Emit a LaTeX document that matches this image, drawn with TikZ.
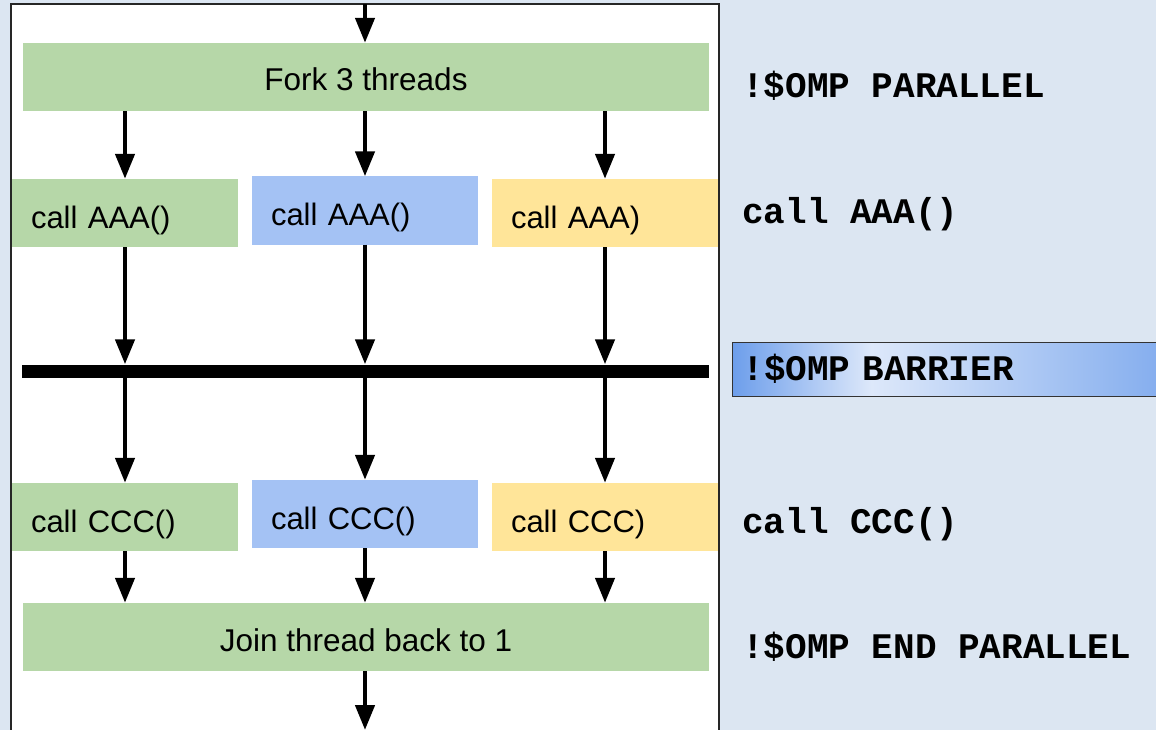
\documentclass[tikz,border=0pt]{standalone}
\usepackage{fontspec}
\setmainfont{Liberation Sans}
\newfontfamily\codefont{Liberation Mono}
\usetikzlibrary{arrows.meta}
\definecolor{bgblue}{HTML}{DCE6F2}
\definecolor{forkgreen}{HTML}{B6D7A8}
\definecolor{threadblue}{HTML}{A4C2F4}
\definecolor{threadyellow}{HTML}{FFE599}
\definecolor{barblue}{HTML}{6D9EEB}
\definecolor{barlight}{HTML}{DDE8FA}
\pgfdeclarehorizontalshading{barriershade}{100bp}{color(0bp)=(barblue); color(25bp)=(barblue); color(41bp)=(barlight); color(75bp)=(barblue!85); color(100bp)=(barblue!85)}
\tikzset{
  flow/.style={line width=4.5pt,-{Triangle[length=25pt,width=19pt]}},
  wide/.style={fill=forkgreen,minimum width=686pt,minimum height=68pt,inner sep=0pt,
    text height=28pt,text depth=0pt,font=\fontsize{31.5}{36}\selectfont},
  thread/.style={minimum height=68pt,text width=188pt,inner xsep=19pt,inner ysep=0pt,align=left,
    text height=30pt,text depth=0pt,font=\fontsize{31}{36}\selectfont},
  code/.style={anchor=base west,inner sep=0pt,font=\codefont\bfseries\fontsize{36}{40}\selectfont}
}
\begin{document}
\begin{tikzpicture}[x=1pt,y=-1pt]
\useasboundingbox (0,0) rectangle (1156,730);
\clip (0,0) rectangle (1156,730);
\fill[bgblue] (0,0) rectangle (1156,730);
\draw[line width=2pt,fill=white,draw=black!85] (11,4) rectangle (719,745);
\coordinate (entry) at (365,4);
\coordinate (exit) at (365,730);
\node[wide] (fork) at (366,77) {Fork 3 threads};
\node[thread,fill=forkgreen] (aaaone) at (125,213) {call AAA()};
\node[thread,fill=threadblue] (aaatwo) at (365,210.5) {call AAA()};
\node[thread,fill=threadyellow] (aaathree) at (605,213) {call AAA)};
\node[fill=black,minimum width=687pt,minimum height=13pt,inner sep=0pt] (barrier) at (365.5,371) {};
\node[thread,fill=forkgreen] (cccone) at (125,517) {call CCC()};
\node[thread,fill=threadblue] (ccctwo) at (365,514) {call CCC()};
\node[thread,fill=threadyellow] (cccthree) at (605,517) {call CCC)};
\node[wide] (join) at (366,637) {Join thread back to 1};
\draw[flow] (entry) -- (entry |- fork.north);
\foreach \t in {aaaone,aaatwo,aaathree}
  \draw[flow] (fork.south -| \t) -- (\t.north);
\foreach \t in {aaaone,aaatwo,aaathree}
  \draw[flow] (\t.south) -- (barrier.north -| \t);
\foreach \t in {cccone,ccctwo,cccthree}
  \draw[flow] (barrier.south -| \t) -- (\t.north);
\foreach \t in {cccone,ccctwo,cccthree}
  \draw[flow] (\t.south) -- (join.north -| \t);
\draw[flow] (join.south -| exit) -- (exit);
\node[code] (ompparallel) at (742,98) {!\$OMP PARALLEL};
\node[code] (callaaa) at (742,223) {call AAA()};
\node[draw=black!80,line width=1pt,shading=barriershade,anchor=west,minimum height=54pt,
  text width=414pt,inner xsep=10pt,inner ysep=0pt,align=left,text height=22pt,text depth=0pt,
  font=\codefont\bfseries\fontsize{36}{40}\selectfont] (ompbarrier) at (732,369) {!\$OMP BARRIER};
\node[code] (callccc) at (742,533) {call CCC()};
\node[code] (ompend) at (742,658) {!\$OMP END PARALLEL};
\end{tikzpicture}
\end{document}
